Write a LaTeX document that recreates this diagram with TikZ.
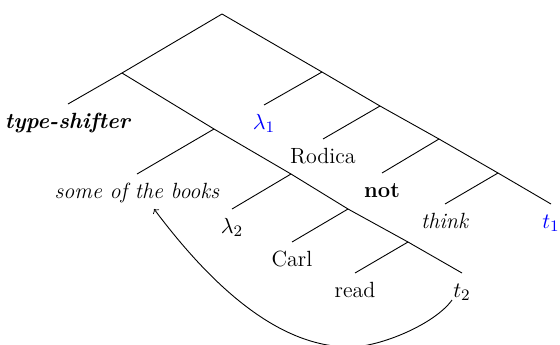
\documentclass[tikz,border=0pt]{standalone}
\usetikzlibrary{calc}
\begin{document}
\begin{tikzpicture}[x=0.5pt,y=-0.5pt,
  leaf/.style={anchor=north,inner xsep=1pt,inner ysep=4pt,text height=8pt,font=\fontsize{11}{13}\selectfont},
  branch/.style={line width=0.45pt},
  hl/.style={text=blue}]
\useasboundingbox (0,0) rectangle (560,344);
% internal nodes
\coordinate (root) at (222,14);
\coordinate (A) at (122,73);
\coordinate (B) at (214,129);
\coordinate (C) at (291,174);
\coordinate (D) at (348,209);
\coordinate (E) at (408,242);
\coordinate (F) at (322,72);
\coordinate (G) at (380,106);
\coordinate (H) at (439,139);
\coordinate (I) at (498,173);
% leaves
\node[leaf] (ts) at (68,104) {\textbf{\textit{type-shifter}}};
\node[leaf] (books) at (137,174) {\textit{some of the books}};
\node[leaf] (lam2) at (232,209) {$\lambda_2$};
\node[leaf] (carl) at (292,242) {Carl};
\node[leaf] (read) at (355,273) {read};
\node[leaf] (t2) at (462,273) {$t_2$};
\node[leaf,hl] (lam1) at (264,105) {$\lambda_1$};
\node[leaf] (rod) at (323,139) {Rodica};
\node[leaf] (not) at (382,173) {\textbf{not}};
\node[leaf] (think) at (445,204) {\textit{think}};
\node[leaf,hl] (t1) at (551,204) {$t_1$};
% branches
\draw[branch] (root) -- (A);
\draw[branch] (root) -- (F);
\draw[branch] (A) -- (ts.north);
\draw[branch] (A) -- (B);
\draw[branch] (B) -- (books.north);
\draw[branch] (B) -- (C);
\draw[branch] (C) -- (lam2.north);
\draw[branch] (C) -- (D);
\draw[branch] (D) -- (carl.north);
\draw[branch] (D) -- (E);
\draw[branch] (E) -- (read.north);
\draw[branch] (E) -- (t2.north);
\draw[branch] (F) -- (lam1.north);
\draw[branch] (F) -- (G);
\draw[branch] (G) -- (rod.north);
\draw[branch] (G) -- (H);
\draw[branch] (H) -- (not.north);
\draw[branch] (H) -- (I);
\draw[branch] (I) -- (think.north);
\draw[branch] (I) -- (t1.north);
% movement arrow
\coordinate (arrS) at ($(t2.north)+(-10,27)$);
\coordinate (arrE) at ($(books.north)+(17,35)$);
\draw[branch,->] (arrS) .. controls (434.6,324.3) and (380,347) .. (350,347)
  .. controls (280,347) and (214,289) .. (arrE);
\end{tikzpicture}
\end{document}
